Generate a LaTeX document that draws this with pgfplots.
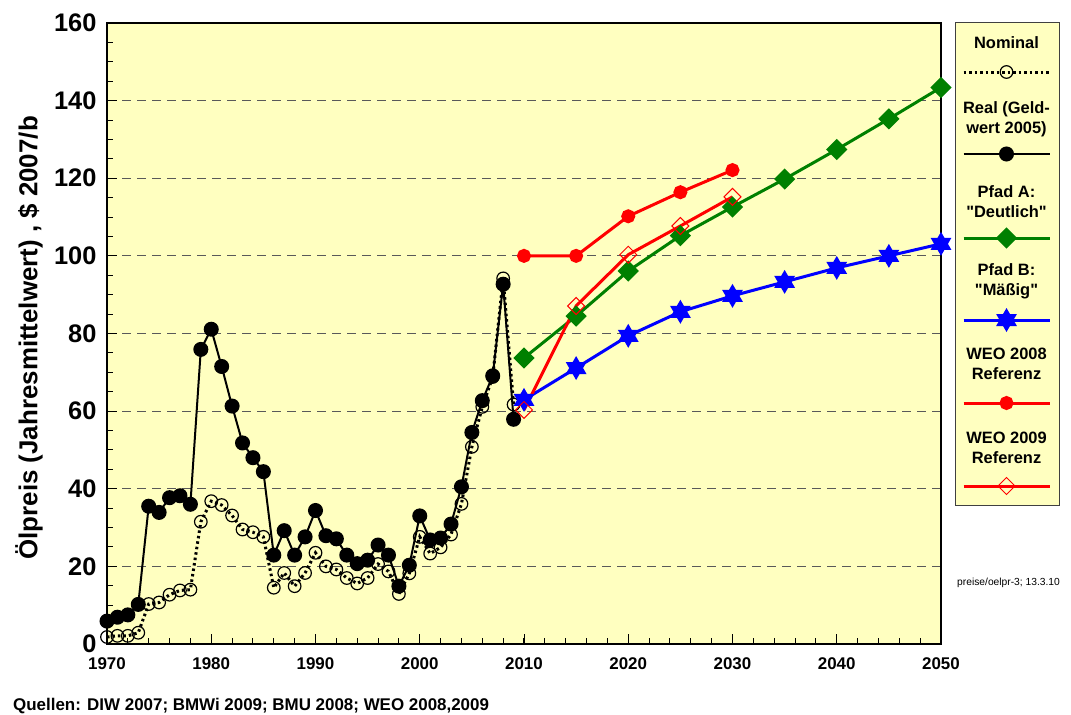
\documentclass[border=0pt]{standalone}
\usepackage{fontspec}
\setmainfont{Liberation Sans}
\usepackage{pgfplots}
\pgfplotsset{compat=1.18}

\definecolor{bgyellow}{RGB}{255,255,192}
\definecolor{pgreen}{RGB}{0,128,0}

% six-pointed filled star for Pfad B
\pgfdeclareplotmark{hexstar}{%
  \pgfpathmoveto{\pgfqpointpolar{90}{\pgfplotmarksize}}%
  \pgfpathlineto{\pgfqpointpolar{210}{\pgfplotmarksize}}%
  \pgfpathlineto{\pgfqpointpolar{330}{\pgfplotmarksize}}%
  \pgfpathclose
  \pgfpathmoveto{\pgfqpointpolar{270}{\pgfplotmarksize}}%
  \pgfpathlineto{\pgfqpointpolar{30}{\pgfplotmarksize}}%
  \pgfpathlineto{\pgfqpointpolar{150}{\pgfplotmarksize}}%
  \pgfpathclose
  \pgfusepathqfillstroke}

\tikzset{lgtext/.style={font=\fontsize{16.5}{20}\selectfont\bfseries, align=center,
  inner sep=0pt, text=black, draw=none, fill=none, solid}}

% legend cell: text above a short sample line (args: box bottom, box top, text y, text)
\pgfplotsset{
  lg/.style n args={4}{legend image code/.code={
    \path[draw=none, fill=none] (-51.5bp,#1) rectangle (51.5bp,#2);
    \node[lgtext] at (0bp,#3) {#4};
    \draw[mark repeat=2,mark phase=2,##1] plot coordinates {(-43bp,0bp) (0bp,0bp) (43bp,0bp)};}},
}

\begin{document}
\begin{tikzpicture}
\useasboundingbox (0bp,0bp) rectangle (1071bp,715bp);
\begin{axis}[
  at={(107bp,71bp)}, anchor=south west,
  width=834bp, height=621bp, scale only axis,
  xmin=1970, xmax=2050, ymin=0, ymax=160,
  axis background/.style={fill=bgyellow},
  axis line style={line width=2bp},
  xtick={1970,1980,...,2050},
  minor xtick={1972,1974,...,2048},
  ytick={0,20,...,160},
  minor ytick={5,10,...,155},
  tick pos=left, tick align=inside,
  tick style={black, line width=1bp},
  major tick length=10bp, minor tick length=6bp,
  ymajorgrids,
  major grid style={black!65, line width=1.2bp, dash pattern=on 9bp off 6bp},
  /pgf/number format/1000 sep={},
  /pgf/number format/assume math mode=true,
  yticklabel style={font=\fontsize{25.5}{30}\selectfont\bfseries, xshift=-7bp},
  xticklabel style={font=\fontsize{17}{20}\selectfont\bfseries, yshift=-10bp},
  ylabel={Ölpreis (Jahresmittelwert) , \$ 2007/b},
  ylabel style={font=\fontsize{26}{30}\selectfont\bfseries, at={(axis description cs:-0.0935,0.493)}, anchor=center},
  legend style={at={(rel axis cs:1.0168,1.0016)}, anchor=north west,
    draw=black!75, line width=0.8bp, fill=bgyellow,
    inner sep=0pt, outer sep=0pt, row sep=0pt, column sep=0pt,
    nodes={inner sep=0pt, outer sep=0pt, text depth=0pt}},
]

% Nominal
\addplot[black, line width=3bp, dash pattern=on 2.5bp off 3bp,
  mark=o, mark size=6.3bp, mark options={solid, line width=1.2bp},
  lg={-13bp}{50bp}{29bp}{Nominal}]
coordinates {
(1970,1.8)(1971,2.1)(1972,2.1)(1973,2.9)(1974,10.3)(1975,10.7)(1976,12.7)
(1977,13.8)(1978,14.0)(1979,31.5)(1980,36.8)(1981,35.8)(1982,33.1)(1983,29.5)
(1984,28.8)(1985,27.6)(1986,14.5)(1987,18.3)(1988,14.9)(1989,18.3)(1990,23.5)
(1991,20.0)(1992,19.2)(1993,17.0)(1994,15.6)(1995,17.0)(1996,20.6)(1997,18.7)
(1998,12.9)(1999,18.2)(2000,27.6)(2001,23.3)(2002,24.9)(2003,28.2)(2004,36.1)
(2005,50.8)(2006,61.1)(2007,68.8)(2008,94.2)(2009,61.7)
};
\addlegendentry{\hbox{}}

% Real
\addplot[black, line width=2bp, mark=*, mark size=6.5bp,
  lg={-16bp}{69bp}{36.5bp}{Real (Geld-\\wert 2005)}]
coordinates {
(1970,5.9)(1971,6.9)(1972,7.5)(1973,10.2)(1974,35.5)(1975,33.9)(1976,37.7)
(1977,38.2)(1978,36.0)(1979,75.9)(1980,81.1)(1981,71.5)(1982,61.3)(1983,51.8)
(1984,48.0)(1985,44.4)(1986,22.9)(1987,29.2)(1988,22.9)(1989,27.6)(1990,34.4)
(1991,27.9)(1992,27.1)(1993,22.9)(1994,20.7)(1995,21.6)(1996,25.5)(1997,22.9)
(1998,14.9)(1999,20.3)(2000,33.0)(2001,26.8)(2002,27.3)(2003,30.9)(2004,40.5)
(2005,54.5)(2006,62.7)(2007,69.1)(2008,92.7)(2009,57.9)
};
\addlegendentry{\hbox{}}

% Pfad A
\addplot[pgreen, line width=3bp, mark=square*, mark size=6bp, mark options={rotate=45},
  lg={-11bp}{68bp}{36.5bp}{Pfad A:\\\textquotedbl Deutlich\textquotedbl}]
coordinates {
(2010,73.7)(2015,84.5)(2020,96.1)(2025,105.2)(2030,112.6)
(2035,119.8)(2040,127.4)(2045,135.3)(2050,143.4)
};
\addlegendentry{\hbox{}}

% Pfad B
\addplot[blue, line width=3bp, mark=hexstar, mark size=9bp,
  lg={-12bp}{71bp}{40bp}{Pfad B:\\\textquotedbl Mäßig\textquotedbl}]
coordinates {
(2010,62.9)(2015,71.1)(2020,79.4)(2025,85.6)(2030,89.7)
(2035,93.3)(2040,96.9)(2045,100.0)(2050,103.1)
};
\addlegendentry{\hbox{}}

% WEO 2008
\addplot[red, line width=3bp, mark=*, mark size=5.5bp,
  lg={-12bp}{71bp}{39bp}{WEO 2008\\Referenz}]
coordinates {
(2010,100)(2015,100)(2020,110.2)(2025,116.4)(2030,122.1)
};
\addlegendentry{\hbox{}}

% WEO 2009
\addplot[red, line width=3bp, mark=square, mark size=6bp,
  mark options={rotate=45, line width=1bp, fill=bgyellow},
  lg={-19bp}{71bp}{38.5bp}{WEO 2009\\Referenz}]
coordinates {
(2010,60.3)(2015,87.1)(2020,100.3)(2025,107.7)(2030,115.2)
};
\addlegendentry{\hbox{}}

\end{axis}
\node[font=\fontsize{17}{20}\selectfont\bfseries, anchor=west, inner sep=0pt] at (13bp,9bp)
  {Quellen: DIW 2007; BMWi 2009; BMU 2008; WEO 2008,2009};
\node[font=\fontsize{10.3}{12}\selectfont, anchor=west, inner sep=0pt] at (957bp,132bp)
  {preise/oelpr-3; 13.3.10};
\end{tikzpicture}
\end{document}
